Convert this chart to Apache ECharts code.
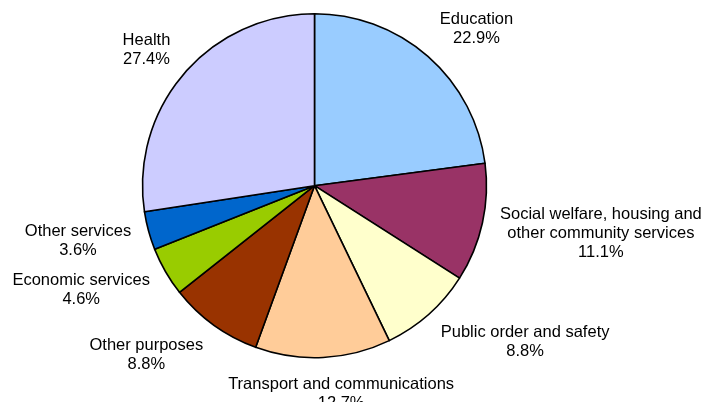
<!DOCTYPE html>
<html>
<head>
<meta charset="utf-8">
<script src="https://cdn.jsdelivr.net/npm/echarts@6/dist/echarts.min.js"></script>
<style>
html, body { margin: 0; padding: 0; background: #fff; }
#chart { width: 702px; height: 402px; }
</style>
</head>
<body>
<div id="chart"></div>
<script>
const categories = [
  'Education',
  'Social welfare, housing and\nother community services',
  'Public order and safety',
  'Transport and communications',
  'Other purposes',
  'Economic services',
  'Other services',
  'Health'
];
const values = [22.9, 11.1, 8.8, 12.7, 8.8, 4.6, 3.6, 27.4];
const colors = ['#99CCFF', '#993366', '#FFFFCC', '#FFCC99', '#993300', '#99CC00', '#0066CC', '#CCCCFF'];

const CX = 314.5, CY = 185.7, R = 172, GAP = 18;
const total = values.reduce((a, b) => a + b, 0);
const cum = [];
values.reduce((acc, v, i) => { cum[i] = acc; return acc + v; }, 0);

const chart = echarts.init(document.getElementById('chart'), null, { renderer: 'canvas' });
chart.setOption({
  backgroundColor: '#ffffff',
  animation: false,
  series: [{
    type: 'pie',
    center: [CX, CY],
    radius: [0, R],
    startAngle: 90,
    clockwise: true,
    silent: true,
    itemStyle: { borderColor: '#000', borderWidth: 1.6 },
    label: {
      show: true,
      position: 'outside',
      overflow: 'none',
      formatter: p => p.name + '\n' + p.value.toFixed(1) + '%',
      fontFamily: 'Liberation Sans, Arial, sans-serif',
      fontSize: 16.5,
      lineHeight: 19,
      color: '#000',
      align: 'center'
    },
    labelLine: { show: false },
    labelLayout: function (params) {
      const i = params.dataIndex;
      const th = (cum[i] + values[i] / 2) / total * Math.PI * 2;
      const ux = Math.sin(th), uy = -Math.cos(th);
      const w = params.labelRect.width, h = params.labelRect.height;
      const px = CX + ux * (R + GAP), py = CY + uy * (R + GAP);
      const fx = Math.max(-1, Math.min(1, ux * 3));
      const fy = uy;
      return {
        x: px + fx * w / 2,
        y: py + fy * h / 2,
        align: 'center',
        verticalAlign: 'middle',
        hideOverlap: false,
        moveOverlap: null
      };
    },
    data: categories.map((n, i) => ({ name: n, value: values[i], itemStyle: { color: colors[i] } }))
  }]
});
</script>
</body>
</html>
